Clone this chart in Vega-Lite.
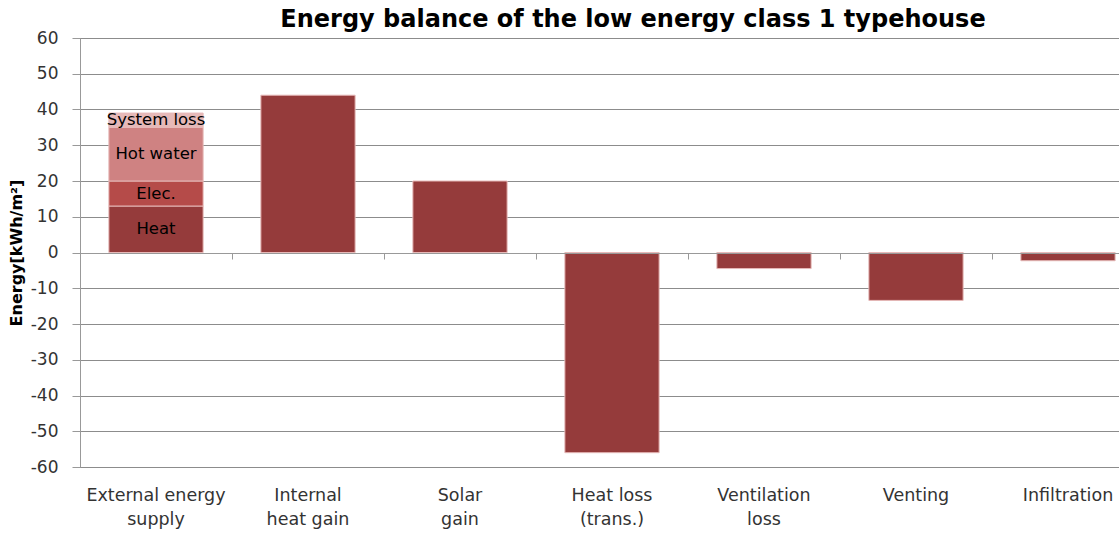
{
  "$schema": "https://vega.github.io/schema/vega-lite/v6.json",
  "width": 1064,
  "height": 429,
  "autosize": {"type": "none"},
  "padding": {"left": 80, "top": 38, "right": 0, "bottom": 67},
  "background": "white",
  "title": {
    "text": "Energy balance of the low energy class 1 typehouse",
    "font": "DejaVu Sans",
    "fontSize": 24,
    "fontWeight": "bold",
    "color": "#000000",
    "anchor": "middle",
    "frame": "group",
    "dx": 21,
    "offset": -3
  },
  "config": {
    "view": {"stroke": null},
    "axis": {"labelFont": "DejaVu Sans", "titleFont": "DejaVu Sans"}
  },
  "data": {
    "values": [
      {"cat": "External energy supply", "part": "Heat", "k": 1, "value": 13},
      {"cat": "External energy supply", "part": "Elec.", "k": 2, "value": 7},
      {"cat": "External energy supply", "part": "Hot water", "k": 3, "value": 15},
      {"cat": "External energy supply", "part": "System loss", "k": 4, "value": 4},
      {"cat": "Internal heat gain", "part": "Total", "k": 1, "value": 44},
      {"cat": "Solar gain", "part": "Total", "k": 1, "value": 20},
      {"cat": "Heat loss (trans.)", "part": "Total", "k": 1, "value": -56},
      {"cat": "Ventilation loss", "part": "Total", "k": 1, "value": -4.5},
      {"cat": "Venting", "part": "Total", "k": 1, "value": -13.4},
      {"cat": "Infiltration", "part": "Total", "k": 1, "value": -2.3}
    ]
  },
  "transform": [
    {"stack": "value", "groupby": ["cat"], "sort": [{"field": "k"}], "as": ["v0", "v1"]}
  ],
  "encoding": {
    "x": {
      "field": "cat",
      "type": "nominal",
      "sort": ["External energy supply", "Internal heat gain", "Solar gain", "Heat loss (trans.)", "Ventilation loss", "Venting", "Infiltration"],
      "scale": {"paddingInner": 0.38, "paddingOuter": 0.19}
    }
  },
  "layer": [
    {
      "mark": {"type": "bar", "stroke": "#E6B9B8", "strokeWidth": 1},
      "encoding": {
        "x": {
          "field": "cat",
          "type": "nominal",
          "sort": ["External energy supply", "Internal heat gain", "Solar gain", "Heat loss (trans.)", "Ventilation loss", "Venting", "Infiltration"],
          "axis": {
            "title": null,
            "orient": "bottom",
            "domain": false,
            "ticks": false,
            "labelAngle": 0,
            "labelFontSize": 17.5,
            "labelColor": "#333333",
            "labelPadding": 19,
            "labelBaseline": "top",
            "labelLineHeight": 24,
            "labelExpr": "datum.label == 'External energy supply' ? ['External energy', 'supply'] : datum.label == 'Internal heat gain' ? ['Internal', 'heat gain'] : datum.label == 'Solar gain' ? ['Solar', 'gain'] : datum.label == 'Heat loss (trans.)' ? ['Heat loss', '(trans.)'] : datum.label == 'Ventilation loss' ? ['Ventilation', 'loss'] : datum.label"
          }
        },
        "y": {
          "field": "v0",
          "type": "quantitative",
          "scale": {"domain": [-60, 60], "nice": false},
          "axis": {
            "title": "Energy[kWh/m²]",
            "titleFontSize": 16,
            "titleFontWeight": "bold",
            "titleColor": "#000000",
            "titlePadding": 6,
            "values": [-60, -50, -40, -30, -20, -10, 0, 10, 20, 30, 40, 50, 60],
            "labelExpr": "'' + datum.value",
            "labelOverlap": false,
            "labelFontSize": 17,
            "labelColor": "#333333",
            "labelPadding": 14,
            "tickSize": 8,
            "tickColor": "#999999",
            "domainColor": "#999999",
            "grid": true,
            "gridColor": "#000000",
            "gridDash": [1, 1],
            "gridOpacity": 0.9
          }
        },
        "y2": {"field": "v1"},
        "color": {
          "field": "part",
          "type": "nominal",
          "scale": {
            "domain": ["Heat", "Elec.", "Hot water", "System loss", "Total"],
            "range": ["#953B3B", "#B54B49", "#CF8282", "#E6B9B8", "#953B3B"]
          },
          "legend": null
        }
      }
    },
    {
      "transform": [
        {"filter": "datum.cat == 'External energy supply'"},
        {"calculate": "(datum.v0 + datum.v1) / 2", "as": "mid"}
      ],
      "mark": {"type": "text", "font": "DejaVu Sans", "fontSize": 16.5, "color": "#000000", "baseline": "middle"},
      "encoding": {
        "x": {
          "field": "cat",
          "type": "nominal",
          "sort": ["External energy supply", "Internal heat gain", "Solar gain", "Heat loss (trans.)", "Ventilation loss", "Venting", "Infiltration"],
          "axis": {
            "title": null,
            "orient": "bottom",
            "offset": -214,
            "labels": false,
            "domain": true,
            "domainColor": "#999999",
            "ticks": true,
            "tickColor": "#999999",
            "tickSize": 6,
            "bandPosition": -0.306,
            "zindex": 1
          }
        },
        "y": {
          "field": "mid",
          "type": "quantitative",
          "axis": {
            "title": "Energy[kWh/m²]",
            "titleFontSize": 16,
            "titleFontWeight": "bold",
            "titleColor": "#000000",
            "titlePadding": 6,
            "values": [-60, -50, -40, -30, -20, -10, 0, 10, 20, 30, 40, 50, 60],
            "labelExpr": "'' + datum.value",
            "labelOverlap": false,
            "labelFontSize": 17,
            "labelColor": "#333333",
            "labelPadding": 14,
            "tickSize": 8,
            "tickColor": "#999999",
            "domainColor": "#999999",
            "grid": true,
            "gridColor": "#000000",
            "gridDash": [1, 1],
            "gridOpacity": 0.9
          }
        },
        "text": {"field": "part"}
      }
    }
  ],
  "resolve": {"axis": {"x": "independent"}}
}
